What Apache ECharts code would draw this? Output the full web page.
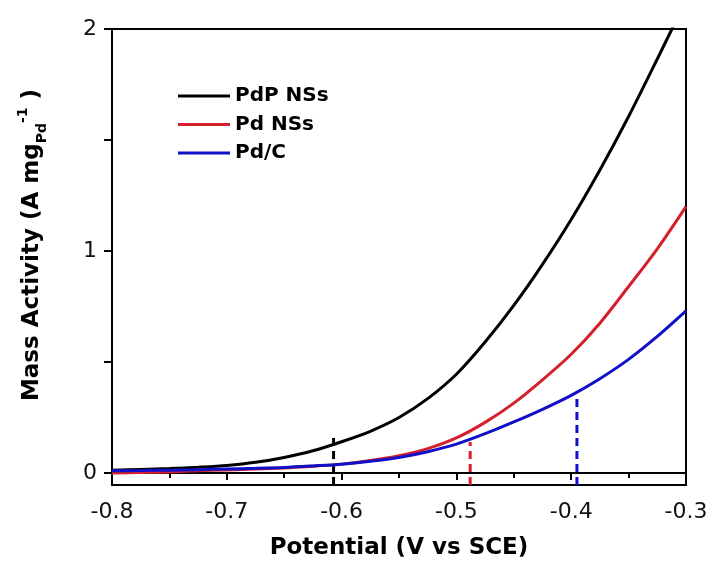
<!DOCTYPE html>
<html>
<head>
<meta charset="utf-8">
<title>Mass Activity</title>
<script src="https://cdn.jsdelivr.net/npm/echarts@6/dist/echarts.min.js"></script>
<style>
  html, body { margin: 0; padding: 0; background: #fff; }
  #chart { width: 713px; height: 565px; }
</style>
</head>
<body>
<div id="chart"></div>
<script>
// values
const potentials = [
  -0.8, -0.775, -0.75, -0.725, -0.7, -0.675, -0.65, -0.625, -0.6, -0.575, -0.55,
  -0.525, -0.5, -0.475, -0.45, -0.425, -0.4, -0.375, -0.35, -0.325, -0.3,
];
const pdpNSs = [
  0.012, 0.016, 0.02, 0.026, 0.034, 0.048, 0.07, 0.1, 0.141, 0.188, 0.25,
  0.335, 0.445, 0.59, 0.755, 0.94, 1.142, 1.365, 1.606, 1.865, 2.13,
];
const pdNSs = [
  0.0, 0.002, 0.005, 0.01, 0.014, 0.018, 0.023, 0.03, 0.04, 0.056, 0.078,
  0.11, 0.158, 0.228, 0.315, 0.42, 0.535, 0.675, 0.84, 1.01, 1.2,
];
const pdC = [
  0.01, 0.011, 0.013, 0.015, 0.018, 0.021, 0.025, 0.032, 0.04, 0.053, 0.07,
  0.096, 0.13, 0.177, 0.23, 0.287, 0.35, 0.425, 0.512, 0.615, 0.73,
];

const seriesNames = ["PdP NSs", "Pd NSs", "Pd/C"];
const seriesColors = ["#000000", "#d4202a", "#1010c8"];

// dashed marker lines (potential, top value)
const markerX = [-0.607, -0.488, -0.395];
const markerTop = [0.168, 0.14, 0.35];

const yTicks = [0, 0.5, 1, 1.5, 2];
const yLabels = [0, 1, 2];
const yMin = -0.054;

const chart = echarts.init(document.getElementById("chart"));

const toPairs = (ys) => potentials.map((x, i) => [x, ys[i]]);

const curves = [pdpNSs, pdNSs, pdC].map((ys, i) => ({
  name: seriesNames[i],
  type: "line",
  data: toPairs(ys),
  smooth: 0.3,
  symbol: "none",
  lineStyle: { color: seriesColors[i], width: 3 },
  itemStyle: { color: seriesColors[i] },
  z: 3,
}));

const markers = markerX.map((x, i) => ({
  name: "marker" + i,
  type: "line",
  data: [[x, yMin], [x, markerTop[i]]],
  symbol: "none",
  lineStyle: { color: seriesColors[i], width: 3, type: [8, 5] },
  z: 2,
}));

const font = "DejaVu Sans";

const option = {
  animation: false,
  grid: {
    left: 112,
    right: 27,
    top: 29,
    bottom: 79,
    show: true,
    borderColor: "#000",
    borderWidth: 2,
  },
  legend: {
    data: seriesNames,
    orient: "vertical",
    left: 178,
    top: 86,
    padding: 0,
    icon: "rect",
    itemWidth: 52,
    itemHeight: 3,
    itemGap: 8.5,
    textStyle: {
      fontFamily: font,
      fontWeight: "bold",
      fontSize: 20,
      lineHeight: 20,
      color: "#000",
    },
  },
  xAxis: {
    type: "value",
    min: -0.8,
    max: -0.3,
    interval: 0.1,
    name: "Potential (V vs SCE)",
    nameLocation: "middle",
    nameGap: 52,
    nameTextStyle: {
      fontFamily: font,
      fontWeight: "bold",
      fontSize: 23,
      color: "#000",
    },
    axisLine: { lineStyle: { color: "#000", width: 2 } },
    axisTick: { length: 7, lineStyle: { color: "#000", width: 2 } },
    minorTick: { show: true, splitNumber: 2, length: 5, lineStyle: { color: "#000", width: 2 } },
    splitLine: { show: false },
    axisLabel: {
      fontFamily: font,
      fontSize: 22,
      color: "#111",
      margin: 16,
      formatter: (v) => v.toFixed(1),
    },
  },
  yAxis: {
    type: "value",
    min: yMin,
    max: 2,
    name: "{n|Mass Activity (A mg}{sub|Pd}{sup|-1}{n| )}",
    nameLocation: "middle",
    nameGap: 63,
    nameTextStyle: {
      padding: [0, 0, 0, 24],
      rich: {
        n: { fontFamily: font, fontWeight: "bold", fontSize: 23, color: "#000", lineHeight: 33 },
        sub: { fontFamily: font, fontWeight: "bold", fontSize: 14, color: "#000", verticalAlign: "bottom", lineHeight: 14 },
        sup: { fontFamily: font, fontWeight: "bold", fontSize: 14, color: "#000", verticalAlign: "top", lineHeight: 14 },
      },
    },
    axisLine: { lineStyle: { color: "#000", width: 2 } },
    axisTick: { customValues: yTicks, length: 8, lineStyle: { color: "#000", width: 2 } },
    splitLine: { show: false },
    axisLabel: {
      customValues: yLabels,
      fontFamily: font,
      fontSize: 22,
      color: "#111",
      margin: 15,
    },
  },
  series: [...curves, ...markers],
};

chart.setOption(option);
</script>
</body>
</html>
